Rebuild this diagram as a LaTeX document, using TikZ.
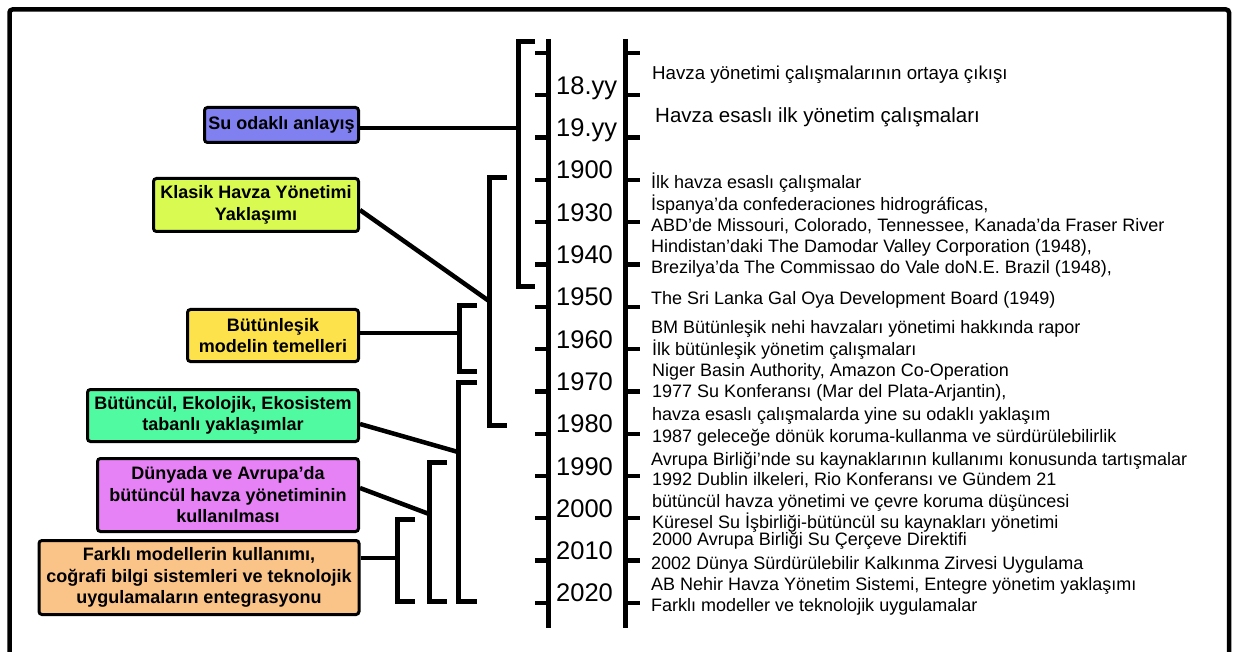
\documentclass[tikz,border=0pt]{standalone}
\usepackage{fontspec}
\setmainfont{Liberation Sans}
\usetikzlibrary{calc}
\definecolor{cSu}{RGB}{128,128,240}
\definecolor{cKl}{RGB}{217,250,80}
\definecolor{cBt}{RGB}{253,226,75}
\definecolor{cBc}{RGB}{80,250,160}
\definecolor{cDn}{RGB}{230,130,245}
\definecolor{cFk}{RGB}{250,195,135}
\tikzset{
  frame/.style={line width=4.5pt, rounded corners=3pt},
  axis/.style={line width=5pt},
  tickmark/.style={line width=4.3pt},
  bracket/.style={line width=5pt, miter limit=10},
  conn/.style={line width=4.5pt},
  box/.style={draw, line width=3pt, rounded corners=3pt, inner sep=0pt, align=center,
    font=\bfseries\fontsize{18}{21.5}\selectfont},
  yearlbl/.style={anchor=base west, inner sep=0pt, font=\fontsize{25.5}{28}\selectfont},
  evt/.style={anchor=base west, inner sep=0pt, font=\fontsize{18}{20}\selectfont},
  evtbig/.style={anchor=base west, inner sep=0pt, font=\fontsize{18.7}{22}\selectfont},
  evtbigb/.style={anchor=base west, inner sep=0pt, font=\fontsize{20.5}{22}\selectfont}
}
\begin{document}
\begin{tikzpicture}[x=1pt,y=-1pt]
\useasboundingbox (0,0) rectangle (1234,652);
\fill[white] (0,0) rectangle (1234,652);
% frame
\draw[frame] (9.5,652) -- (9.5,9.5) -- (1229,9.5) -- (1229,652);

% axes
\coordinate (aLt) at (548,39);
\coordinate (aLb) at (548,628);
\coordinate (aRt) at (625,39);
\coordinate (aRb) at (625,628);
\draw[axis] (aLt) -- (aLb);
\draw[axis] (aRt) -- (aRb);
\foreach \k in {0,...,13}{
  \draw[tickmark] (535,{53+42.3*\k}) -- (548,{53+42.3*\k});
  \draw[tickmark] (625,{53+42.3*\k}) -- (640,{53+42.3*\k});
}
% year labels
\foreach \k/\t in {1/18.yy,2/19.yy,3/1900,4/1930,5/1940,6/1950,7/1960,8/1970,9/1980,10/1990,11/2000,12/2010,13/2020}{
  \node[yearlbl] (yr\k) at (556,{52+42.3*\k}) {\t};
}

% boxes
\node[box, fill=cSu, minimum width=154, minimum height=35] (su) at (281.5,125) {Su odaklı anlayış};
\node[box, fill=cKl, minimum width=205, minimum height=53] (kl) at (256,205) {Klasik Havza Yönetimi\\Yaklaşımı};
\node[box, fill=cBt, minimum width=171, minimum height=52] (bt) at (273,335.5) {Bütünleşik\\modelin temelleri};
\node[box, fill=cBc, minimum width=271, minimum height=52] (bc) at (223,415.5) {Bütüncül, Ekolojik, Ekosistem\\tabanlı yaklaşımlar};
\node[box, fill=cDn, minimum width=261, minimum height=73] (dn) at (228,495) {Dünyada ve Avrupa’da\\bütüncül havza yönetiminin\\kullanılması};
\node[box, fill=cFk, minimum width=320, minimum height=74] (fk) at (199,577.5) {Farklı modellerin kullanımı,\\coğrafi bilgi sistemleri ve teknolojik\\uygulamaların entegrasyonu};

% brackets
\draw[bracket] (535,42) -- (518,42) -- (518,287) -- (535,287);
\draw[bracket] (507,178) -- (489,178) -- (489,425) -- (507,425);
\draw[bracket] (477,306) -- (459,306) -- (459,371) -- (477,371);
\draw[bracket] (477,382) -- (458,382) -- (458,601) -- (477,601);
\draw[bracket] (447,462) -- (429,462) -- (429,601) -- (447,601);
\draw[bracket] (415,519) -- (397,519) -- (397,601) -- (415,601);

% connector end points
\coordinate (b1c) at (518,128);
\coordinate (b2c) at (489,301);
\coordinate (b3c) at (459,333);
\coordinate (b4c) at (458,452);
\coordinate (b5c) at (429,514);
\coordinate (b6c) at (397,558);
\draw[conn] (su.east |- b1c) -- (b1c);
\draw[conn] ($(kl.east)+(0,5)$) -- (b2c);
\draw[conn] (bt.east |- b3c) -- (b3c);
\draw[conn] ($(bc.east)+(0,8.5)$) -- (b4c);
\draw[conn] ($(dn.east)+(0,-7)$) -- (b5c);
\draw[conn] (fk.east |- b6c) -- (b6c);

% events
\node[evtbig] (e1) at (652,80) {Havza yönetimi çalışmalarının ortaya çıkışı};
\node[evtbigb] (e2) at (655,123) {Havza esaslı ilk yönetim çalışmaları};
\node[evt] (e3) at (651,188.5) {İlk havza esaslı çalışmalar};
\node[evt] (e4) at (651,210.5) {İspanya’da confederaciones hidrográficas,};
\node[evt] (e5) at (651,231.5) {ABD’de Missouri, Colorado, Tennessee, Kanada’da Fraser River};
\node[evt] (e6) at (651,252.5) {Hindistan’daki The Damodar Valley Corporation (1948),};
\node[evt] (e7) at (651,273.5) {Brezilya’da The Commissao do Vale doN.E. Brazil (1948),};
\node[evt] (e8) at (651,304.5) {The Sri Lanka Gal Oya Development Board (1949)};
\node[evt] (e9) at (651,333.5) {BM Bütünleşik nehi havzaları yönetimi hakkında rapor};
\node[evt] (e10) at (652,355.5) {İlk bütünleşik yönetim çalışmaları};
\node[evt] (e11) at (652,376.5) {Niger Basin Authority, Amazon Co-Operation};
\node[evt] (e12) at (652,397.5) {1977 Su Konferansı (Mar del Plata-Arjantin),};
\node[evt] (e13) at (652,420.5) {havza esaslı çalışmalarda yine su odaklı yaklaşım};
\node[evt] (e14) at (652,442.5) {1987 geleceğe dönük koruma-kullanma ve sürdürülebilirlik};
\node[evt] (e15) at (651,465.5) {Avrupa Birliği’nde su kaynaklarının kullanımı konusunda tartışmalar};
\node[evt] (e16) at (652,485.5) {1992 Dublin ilkeleri, Rio Konferansı ve Gündem 21};
\node[evt] (e17) at (652,507.5) {bütüncül havza yönetimi ve çevre koruma düşüncesi};
\node[evt] (e18) at (652,528.5) {Küresel Su İşbirliği-bütüncül su kaynakları yönetimi};
\node[evt] (e19) at (652,545.5) {2000 Avrupa Birliği Su Çerçeve Direktifi};
\node[evt] (e20) at (651,569.5) {2002 Dünya Sürdürülebilir Kalkınma Zirvesi Uygulama};
\node[evt] (e21) at (651,590.5) {AB Nehir Havza Yönetim Sistemi, Entegre yönetim yaklaşımı};
\node[evt] (e22) at (651,611.5) {Farklı modeller ve teknolojik uygulamalar};
\end{tikzpicture}
\end{document}
